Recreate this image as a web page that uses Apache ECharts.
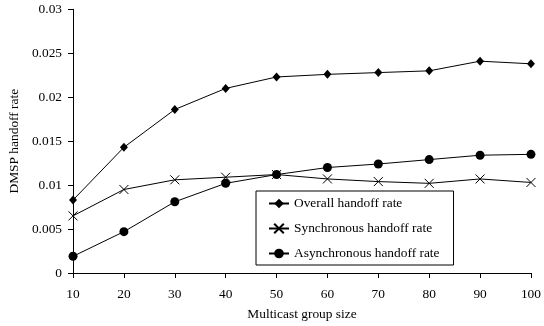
<!DOCTYPE html>
<html><head><meta charset="utf-8">
<script src="https://cdn.jsdelivr.net/npm/echarts@6/dist/echarts.min.js"></script>
<style>html,body{margin:0;padding:0;background:#fff}#c{width:544px;height:326px}</style>
</head><body><div id="c"></div>
<script>
const categories = [10, 20, 30, 40, 50, 60, 70, 80, 90, 100];
const overall = [0.0083, 0.0143, 0.0186, 0.0210, 0.0223, 0.0226, 0.0228, 0.0230, 0.0241, 0.0238];
const synchronous = [0.0065, 0.0095, 0.0106, 0.0109, 0.0112, 0.0107, 0.0104, 0.0102, 0.0107, 0.0103];
const asynchronous = [0.0019, 0.0047, 0.0081, 0.0102, 0.0112, 0.0120, 0.0124, 0.0129, 0.0134, 0.0135];
const seriesNames = ['Overall handoff rate', 'Synchronous handoff rate', 'Asynchronous handoff rate'];
const yTicks = [0, 0.005, 0.01, 0.015, 0.02, 0.025, 0.03];

const font = '"Liberation Serif", "Times New Roman", serif';
const fs = 13.4;
const chart = echarts.init(document.getElementById('c'));
const line = {color: '#000', width: 1};
chart.setOption({
  animation: false,
  grid: {left: 69.3, right: 12.7, top: 9.3, bottom: 51.7},
  xAxis: {
    type: 'value', min: 10, max: 100, interval: 10,
    name: 'Multicast group size', nameLocation: 'middle', nameGap: 35,
    nameTextStyle: {fontFamily: font, fontSize: fs, color: '#000'},
    axisLine: {lineStyle: {color: '#000'}},
    axisTick: {show: true, length: 5, lineStyle: {color: '#000'}},
    axisLabel: {fontFamily: font, fontSize: fs, color: '#000', margin: 15},
    splitLine: {show: false}
  },
  yAxis: {
    type: 'value', min: 0, max: 0.03, interval: 0.005,
    name: 'DMSP handoff rate', nameLocation: 'middle', nameGap: 42,
    nameTextStyle: {fontFamily: font, fontSize: fs, color: '#000'},
    axisLine: {show: true, lineStyle: {color: '#000'}},
    axisTick: {show: true, length: 5, lineStyle: {color: '#000'}},
    axisLabel: {fontFamily: font, fontSize: fs, color: '#000', margin: 11,
      formatter: v => { const t = yTicks.find(x => Math.abs(x - v) < 1e-9); return t === undefined ? '' : String(+t.toFixed(3)); }},
    splitLine: {show: false}
  },
  legend: {
    left: 256, top: 191, orient: 'vertical',
    borderColor: '#000', borderWidth: 1, padding: [6, 14, 5, 12],
    itemWidth: 20, itemHeight: 12, itemGap: 12,
    textStyle: {fontFamily: font, fontSize: fs, color: '#000'},
    data: seriesNames
  },
  series: [
    {name: seriesNames[0], type: 'line', data: categories.map((c, i) => [c, overall[i]]),
     symbol: 'diamond', symbolSize: [8, 9], itemStyle: {color: '#000'}, lineStyle: line},
    {name: seriesNames[1], type: 'line', data: categories.map((c, i) => [c, synchronous[i]]),
     symbol: 'path://M0,0L10,10M10,0L0,10', symbolSize: 9,
     itemStyle: {color: 'rgba(0,0,0,0)', borderColor: '#000', borderWidth: 1}, lineStyle: line},
    {name: seriesNames[2], type: 'line', data: categories.map((c, i) => [c, asynchronous[i]]),
     symbol: 'circle', symbolSize: 9, itemStyle: {color: '#000'}, lineStyle: line}
  ]
});
</script></body></html>
